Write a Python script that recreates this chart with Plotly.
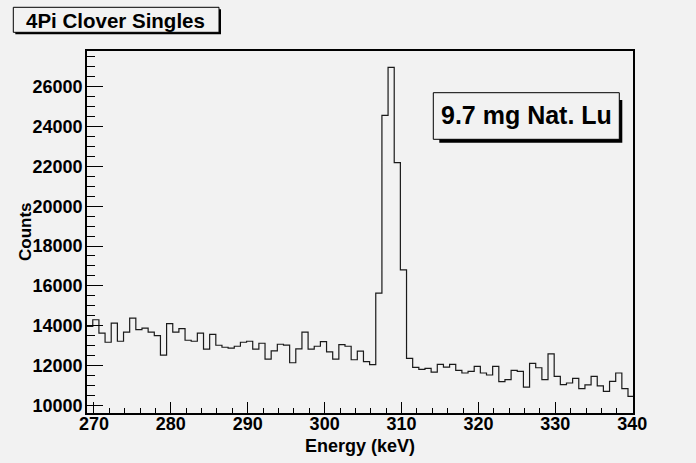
import numpy as np
import plotly.graph_objects as go

# ---- data ----
bin_start = 269.05   # keV, lower edge of first bin
bin_width = 0.8      # keV
counts = [
    13960, 14300, 13630, 13170, 14130, 13220, 13680, 14380, 13800, 13880,
    13680, 13500, 12520, 14100, 13680, 13850, 13270, 13220, 13630, 12820,
    13570, 13020, 12920, 12870, 12970, 13170, 13220, 12820, 13120, 12320,
    12740, 13070, 13030, 12140, 12840, 13680, 12820, 12970, 13200, 12690,
    12320, 13050, 12970, 12290, 12720, 12200, 12050, 15640, 24560, 26970,
    22190, 16800, 12360, 11910, 11805, 11855, 11675, 12055, 11925, 12055,
    11755, 11625, 11705, 11955, 11625, 11525, 11955, 11190, 11290, 11755,
    11705, 10920, 12105, 11890, 11290, 12590, 11455, 11040, 11125, 11355,
    10840, 11025, 11455, 10975, 10700, 11205, 11625, 10840, 10450,
]
title_text = "4Pi Clover Singles"
label_text = "9.7 mg Nat. Lu"
x_title = "Energy (keV)"
y_title = "Counts"

edges = bin_start + bin_width * np.arange(len(counts) + 1)
yvals = list(counts) + [counts[-1]]

W, H = 696, 463
L, R, T, B = 87, 63, 51, 50
PW, PH = W - L - R, H - T - B
BG = "#f2f2f2"
FONT = "Liberation Sans"

def xp(px):
    return (px - L) / PW

def yp(py):
    return (H - B - py) / PH

fig = go.Figure()
fig.add_trace(go.Scatter(
    x=edges, y=yvals, mode="lines", line_shape="hv",
    line=dict(color="#1a1a1a", width=1.2), hoverinfo="skip", showlegend=False,
))

shapes = []
def rect(x0, y0, x1, y1, fill, line_color=None, lw=0):
    shapes.append(dict(
        type="rect", xref="paper", yref="paper",
        x0=xp(x0), x1=xp(x1), y0=yp(y1), y1=yp(y0),
        fillcolor=fill, line=dict(color=line_color or fill, width=lw), layer="above",
    ))

# title box with shadow
rect(15.3, 9.3, 221, 34.3, "black")
rect(13.3, 7.3, 219, 32.3, BG, "black", 1)
# label box with shadow
rect(439.3, 100, 622.3, 142.7, "black")
rect(433.3, 92.7, 619.3, 139.3, BG, "black", 1)

annotations = [
    dict(text=title_text, x=xp(115), y=yp(20.3), xref="paper", yref="paper",
         showarrow=False, xanchor="center", yanchor="middle",
         font=dict(family=FONT, size=20.5, color="black", weight="bold")),
    dict(text=label_text, x=xp(526), y=yp(115.5), xref="paper", yref="paper",
         showarrow=False, xanchor="center", yanchor="middle",
         font=dict(family=FONT, size=25, color="black", weight="bold")),
    dict(text=x_title, x=0.5, y=yp(446), xref="paper", yref="paper",
         showarrow=False, xanchor="center", yanchor="middle",
         font=dict(family=FONT, size=18, color="black", weight="bold")),
    dict(text=y_title, x=xp(25), y=0.5, xref="paper", yref="paper",
         showarrow=False, xanchor="center", yanchor="middle", textangle=-90,
         font=dict(family=FONT, size=17, color="black", weight="bold")),
]

fig.update_layout(
    width=W, height=H,
    margin=dict(l=L, r=R, t=T, b=B, autoexpand=False),
    paper_bgcolor=BG, plot_bgcolor=BG,
    shapes=shapes, annotations=annotations,
    xaxis=dict(
        range=[269.1, 340.1], tick0=270, dtick=10, ticks="inside", ticklen=11,
        tickcolor="black", tickwidth=1,
        minor=dict(ticks="inside", dtick=2, tick0=270, ticklen=5.5, tickcolor="black"),
        showgrid=False, zeroline=False, showline=True, mirror=True,
        linecolor="black", linewidth=1.5,
        tickfont=dict(family=FONT, size=18, color="black", weight="bold"),
        ticklabelstandoff=-6,
    ),
    yaxis=dict(
        range=[9618, 27791], tick0=10000, dtick=2000, ticks="inside", ticklen=16,
        tickcolor="black", tickwidth=1,
        minor=dict(ticks="inside", dtick=500, tick0=10000, ticklen=8.5, tickcolor="black"),
        showgrid=False, zeroline=False, showline=True, mirror=True,
        linecolor="black", linewidth=1.5, tickformat="d",
        tickfont=dict(family=FONT, size=18, color="black", weight="bold"),
        ticklabelstandoff=-1,
    ),
)

fig.write_html("out.html")
